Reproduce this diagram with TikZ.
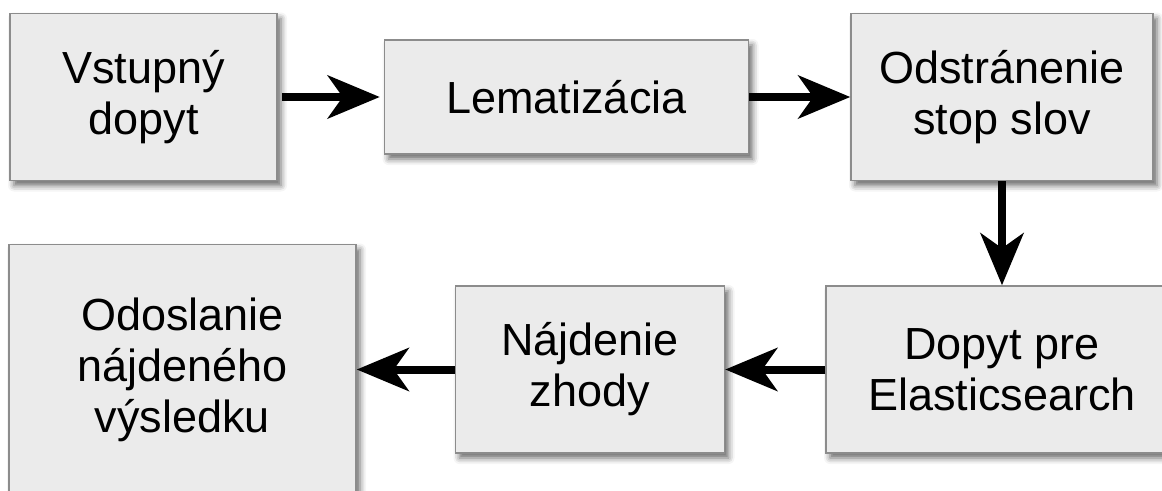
\documentclass[tikz,border=0pt]{standalone}
\usepackage{fontspec}
\setmainfont{Liberation Sans}
\usetikzlibrary{positioning,arrows.meta,shadows.blur}

\begin{document}
\begin{tikzpicture}
[x=1pt,y=1pt,%
  stepbox/.style={shape=rectangle,draw=black!45,line width=1.5pt,fill=black!8,%
    align=center,font=\fontsize{45}{51}\selectfont,%
    blur shadow={shadow xshift=4pt,shadow yshift=-5pt,shadow blur radius=6pt,shadow opacity=60}},%
  flow/.style={-{Stealth[length=52pt,width=43pt,inset=15pt]},line width=8pt}]
\useasboundingbox (0,0) rectangle (1162,-490);
\clip (0,0) rectangle (1162,-490);
\node[stepbox,minimum width=267pt,minimum height=167pt] (query) at (143.5,-97) {Vstupný\\dopyt};
\node[stepbox,minimum width=364pt,minimum height=114pt,right=106pt of query] (lemma) {Lematizácia};
\node[stepbox,minimum width=302pt,minimum height=167pt,right=101pt of lemma] (stop) {Odstránenie\\stop slov};
\node[stepbox,minimum width=352pt,minimum height=167pt,below=104pt of stop] (elastic) {Dopyt pre\\Elasticsearch};
\node[stepbox,minimum width=269pt,minimum height=167pt,left=100pt of elastic] (match) {Nájdenie\\zhody};
\node[stepbox,minimum width=347pt,minimum height=250pt,left=98pt of match] (send) {Odoslanie\\nájdeného\\výsledku};
\draw[flow,shorten <=4pt,shorten >=4pt] (query) -- (lemma);
\draw[flow] (lemma) -- (stop);
\draw[flow] (stop) -- (elastic);
\draw[flow] (elastic) -- (match);
\draw[flow] (match) -- (send);
\end{tikzpicture}
\end{document}
